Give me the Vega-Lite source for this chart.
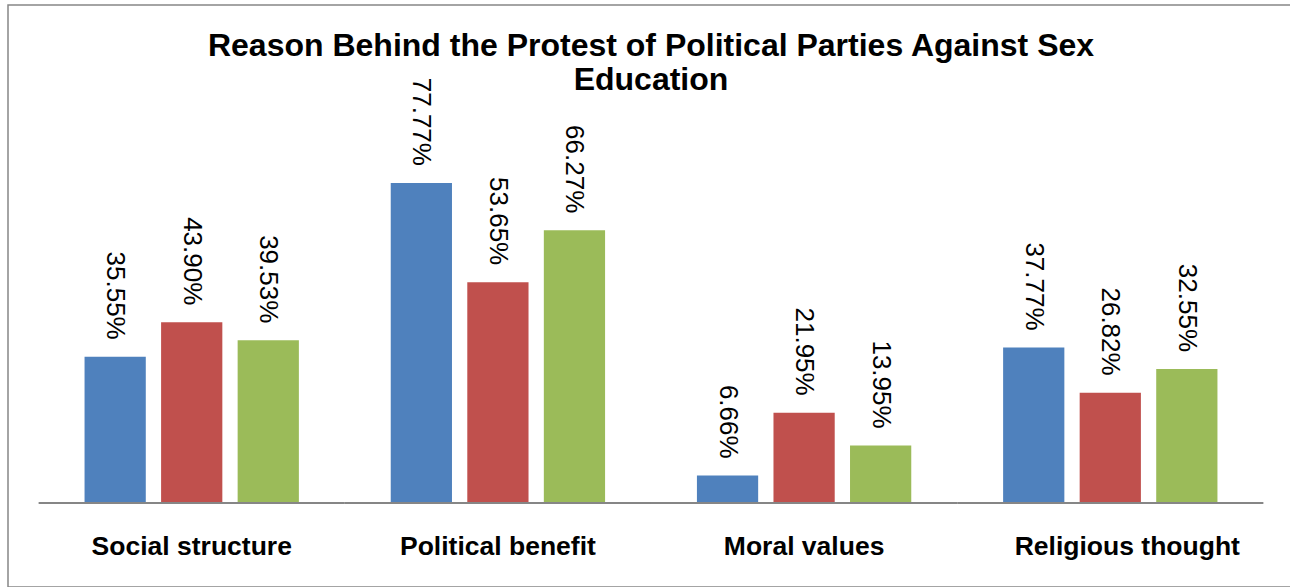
{
  "$schema": "https://vega.github.io/schema/vega-lite/v6.json",
  "autosize": "none",
  "padding": {"left": 8, "top": 5, "right": 0, "bottom": 0},
  "width": 1286,
  "height": 582,
  "background": "white",
  "title": {
    "text": ["Reason Behind the Protest of Political Parties Against Sex", "Education"],
    "font": "Liberation Sans",
    "fontSize": 32,
    "fontWeight": "bold",
    "color": "black",
    "anchor": "middle",
    "offset": -92,
    "lineHeight": 34.5
  },
  "data": {
    "values": [
      {"category": "Social structure", "series": "Series 1", "value": 0.3555},
      {"category": "Social structure", "series": "Series 2", "value": 0.4390},
      {"category": "Social structure", "series": "Series 3", "value": 0.3953},
      {"category": "Political benefit", "series": "Series 1", "value": 0.7777},
      {"category": "Political benefit", "series": "Series 2", "value": 0.5365},
      {"category": "Political benefit", "series": "Series 3", "value": 0.6627},
      {"category": "Moral values", "series": "Series 1", "value": 0.0666},
      {"category": "Moral values", "series": "Series 2", "value": 0.2195},
      {"category": "Moral values", "series": "Series 3", "value": 0.1395},
      {"category": "Religious thought", "series": "Series 1", "value": 0.3777},
      {"category": "Religious thought", "series": "Series 2", "value": 0.2682},
      {"category": "Religious thought", "series": "Series 3", "value": 0.3255}
    ]
  },
  "encoding": {
    "x": {
      "field": "category",
      "type": "nominal",
      "sort": null,
      "scale": {"paddingInner": 0, "paddingOuter": 0.1},
      "axis": {
        "title": null,
        "domain": false,
        "ticks": false,
        "tickSize": 0,
        "grid": false,
        "labelFont": "Liberation Sans",
        "labelFontSize": 26.5,
        "labelFontWeight": "bold",
        "labelColor": "black",
        "labelAngle": 0,
        "labelBaseline": "alphabetic",
        "labelPadding": 51,
        "labelLimit": 400,
        "labelOverlap": false,
        "labelOffset": {"condition": {"test": "datum.value === 'Religious thought'", "value": 17}, "value": 0},
        "offset": -84
      }
    }
  },
  "layer": [
    {
      "mark": {"type": "bar"},
      "encoding": {
        "xOffset": {"field": "series", "type": "nominal", "scale": {"paddingInner": 0.2, "paddingOuter": 0.6}},
        "y": {"field": "value", "type": "quantitative", "stack": null, "scale": {"domain": [-0.204, 1.21], "nice": false, "zero": false}, "axis": null},
        "color": {"field": "series", "type": "nominal", "scale": {"domain": ["Series 1", "Series 2", "Series 3"], "range": ["#4F81BD", "#C0504D", "#9BBB59"]}, "legend": null}
      }
    },
    {
      "mark": {"type": "text", "angle": 90, "align": "right", "baseline": "middle", "dx": -17, "font": "Liberation Sans", "fontSize": 26, "color": "black"},
      "encoding": {
        "xOffset": {"field": "series", "type": "nominal"},
        "y": {"field": "value", "type": "quantitative"},
        "text": {"field": "value", "type": "quantitative", "format": ".2%"}
      }
    },
    {
      "transform": [{"filter": "datum.series === 'Series 1'"}],
      "mark": {"type": "tick", "orient": "horizontal", "size": 306.2, "thickness": 2, "color": "#868686", "opacity": 1},
      "encoding": {
        "y": {"datum": 0, "type": "quantitative"}
      }
    }
  ],
  "config": {
    "view": {"stroke": "#878787", "strokeWidth": 1.5}
  }
}
